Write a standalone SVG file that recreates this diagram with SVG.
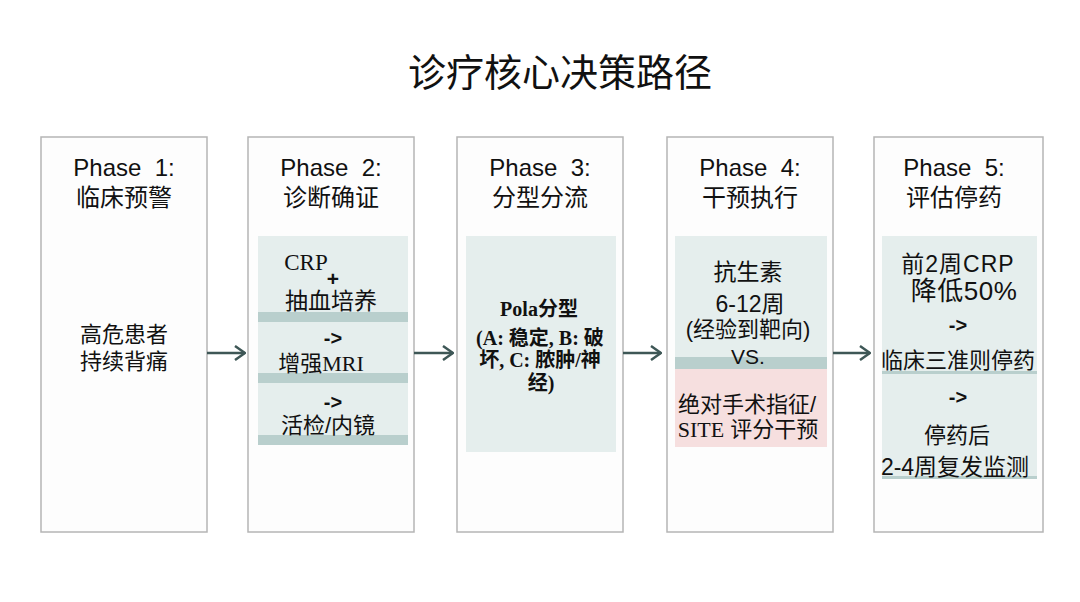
<svg xmlns="http://www.w3.org/2000/svg" width="1080" height="602" viewBox="0 0 1080 602">
<defs>
<style>
.box{fill:#fdfdfd;stroke:#b5b5b5;stroke-width:1.5}
.panel{fill:#e5eeed}
.band{fill:#b9cfcd}
.pink{fill:#f6dfdf}
.t{font-family:"Liberation Sans","Noto Sans CJK SC",sans-serif;fill:#111;text-anchor:middle;white-space:pre}
.h{font-size:24px}
.b{font-size:22px}
.s{font-family:"Liberation Serif","Noto Sans CJK SC",serif;fill:#111;text-anchor:middle}
.conn{stroke:#3e5756;stroke-width:2.5;fill:none}
</style>
<marker id="arr" viewBox="0 0 12 16" refX="11" refY="8" markerWidth="12" markerHeight="16" markerUnits="userSpaceOnUse" orient="auto">
<path d="M1,1 L11,8 L1,15" fill="none" stroke="#3e5756" stroke-width="2.5"/>
</marker>
</defs>
<rect width="1080" height="602" fill="#ffffff"/>
<text class="t" x="560" y="86" font-size="38">诊疗核心决策路径</text>

<g id="phase1">
<rect class="box" x="41" y="137" width="166" height="395"/>
<text class="t h" x="124" y="176">Phase  1:</text>
<text class="t h" x="124" y="206">临床预警</text>
<text class="t b" x="124" y="342">高危患者</text>
<text class="t b" x="124" y="369">持续背痛</text>
</g>

<g id="phase2">
<rect class="box" x="248" y="137" width="166" height="395"/>
<text class="t h" x="331" y="176">Phase  2:</text>
<text class="t h" x="331" y="206">诊断确证</text>
<rect class="panel" x="258" y="236" width="150" height="209"/>
<rect class="band" x="258" y="312" width="150" height="10"/>
<rect class="band" x="258" y="373" width="150" height="10"/>
<rect class="band" x="258" y="435" width="150" height="10"/>
<text class="s" x="306" y="270" font-size="23">CRP</text>
<text class="t" x="333" y="286" font-size="21" font-weight="bold">+</text>
<text class="t" x="331" y="309" font-size="23">抽血培养</text>
<text class="t" x="333" y="345" font-size="20" font-weight="bold">-&gt;</text>
<text class="t b" x="321" y="371">增强<tspan font-family="Liberation Serif">MRI</tspan></text>
<text class="t" x="333" y="409" font-size="20" font-weight="bold">-&gt;</text>
<text class="t b" x="328" y="433">活检/内镜</text>
</g>

<g id="phase3">
<rect class="box" x="457" y="137" width="166" height="395"/>
<text class="t h" x="540" y="176">Phase  3:</text>
<text class="t h" x="540" y="206">分型分流</text>
<rect class="panel" x="466" y="236" width="150" height="216"/>
<text class="s" x="539" y="316" font-size="20" font-weight="bold">Pola分型</text>
<text class="s" x="540" y="345" font-size="20" font-weight="bold">(A: 稳定, B: 破</text>
<text class="s" x="540" y="367" font-size="20" font-weight="bold">坏, C: 脓肿/神</text>
<text class="s" x="541" y="390" font-size="20" font-weight="bold">经)</text>
</g>

<g id="phase4">
<rect class="box" x="667" y="137" width="166" height="395"/>
<text class="t h" x="750" y="176">Phase  4:</text>
<text class="t h" x="750" y="206">干预执行</text>
<rect class="panel" x="675" y="236" width="152" height="121"/>
<rect class="band" x="675" y="357" width="152" height="12"/>
<rect class="pink" x="675" y="369" width="152" height="78"/>
<text class="t" x="748" y="280" font-size="23">抗生素</text>
<text class="t" x="750" y="312" font-size="23">6-12周</text>
<text class="t b" x="748" y="337">(经验到靶向)</text>
<text class="t" x="748" y="364" font-size="21">VS.</text>
<text class="t b" x="747" y="412">绝对手术指征/</text>
<text class="t b" x="748" y="437"><tspan font-family="Liberation Serif">SITE</tspan> 评分干预</text>
</g>

<g id="phase5">
<rect class="box" x="874" y="137" width="169" height="395"/>
<text class="t h" x="954" y="176">Phase  5:</text>
<text class="t h" x="954" y="206">评估停药</text>
<rect class="panel" x="882" y="236" width="155" height="242"/>
<rect class="band" x="882" y="371" width="155" height="3"/>
<rect class="band" x="882" y="476" width="155" height="3"/>
<text class="t" x="958" y="272" font-size="23" letter-spacing="1">前2周CRP</text>
<text class="t" x="964" y="300" font-size="26" letter-spacing="0.5">降低50%</text>
<text class="t" x="958" y="332" font-size="20" font-weight="bold">-&gt;</text>
<text class="t b" x="958" y="368">临床三准则停药</text>
<text class="t" x="958" y="404" font-size="20" font-weight="bold">-&gt;</text>
<text class="t b" x="957" y="443">停药后</text>
<text class="t" x="955" y="475" font-size="23">2-4周复发监测</text>
</g>

<g id="connectors">
<line class="conn" x1="207" y1="353" x2="245" y2="353" marker-end="url(#arr)"/>
<line class="conn" x1="414" y1="353" x2="453" y2="353" marker-end="url(#arr)"/>
<line class="conn" x1="623" y1="353" x2="661" y2="353" marker-end="url(#arr)"/>
<line class="conn" x1="833" y1="353" x2="870" y2="353" marker-end="url(#arr)"/>
</g>
</svg>
